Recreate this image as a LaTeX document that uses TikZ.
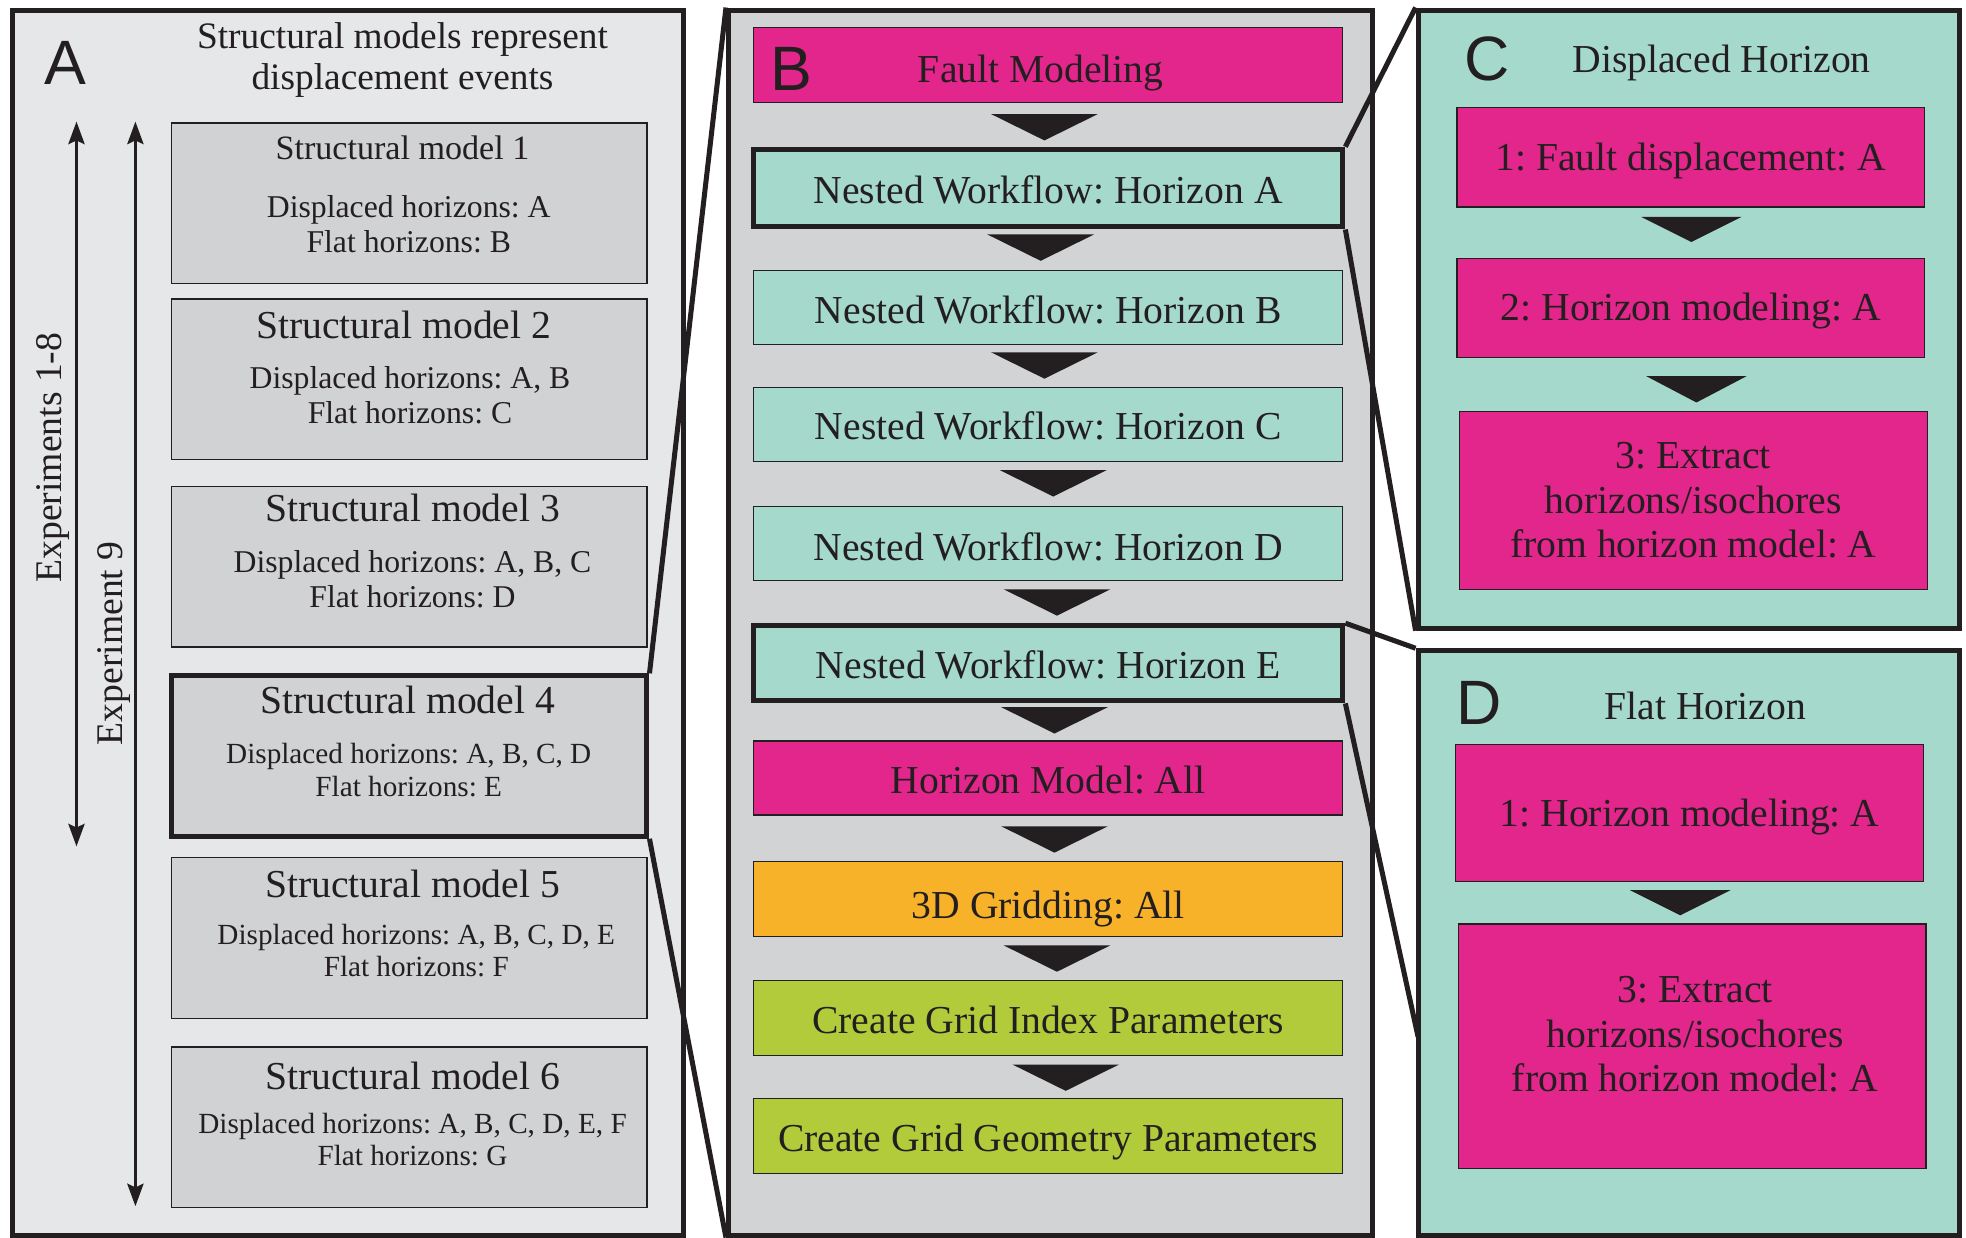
\documentclass[tikz,border=0pt]{standalone}
\usepackage{fontspec}
\setmainfont{Liberation Serif}
\newfontfamily\lettfont{Liberation Sans}
\usetikzlibrary{arrows.meta,calc}
\definecolor{ink}{HTML}{231F20}
\definecolor{grayA}{HTML}{E6E7E8}
\definecolor{grayB}{HTML}{D1D3D4}
\definecolor{graySM}{HTML}{D1D2D4}
\definecolor{magent}{HTML}{E2268B}
\definecolor{teal}{HTML}{A5D9CC}
\definecolor{orng}{HTML}{F8B22A}
\definecolor{lime}{HTML}{B1CB3A}
\newcommand\downtri[4]{\fill[ink] (#1-#3/2,#2) -- (#1+#3/2,#2) -- (#1,#2+#4) -- cycle;}
\frenchspacing
\begin{document}
\frenchspacing
\begin{tikzpicture}[x=0.5pt,y=-0.5pt,
  every node/.style={text=ink},
  panel/.style={draw=ink,line width=2pt,inner sep=0},
  smbox/.style={draw=ink,line width=0.5pt,fill=graySM,minimum width=189.5pt,minimum height=64pt,inner sep=0},
  thickb/.style={line width=2pt},
  bbox/.style={draw=ink,line width=0.5pt,minimum width=235pt,inner sep=0,text height=12.4pt,text depth=0pt,font=\fontsize{15.8}{19}\selectfont},
  cbox/.style={draw=ink,line width=0.5pt,fill=magent,minimum width=186.5pt,inner sep=0,align=center,font=\fontsize{15.8}{17.75}\selectfont},
  cone/.style={cbox,text height=10.4pt,text depth=0pt},
  smtitle/.style={inner sep=0,font=\fontsize{15.8}{19}\selectfont},
  smbody/.style={inner sep=0,align=center,font=\fontsize{12.65}{14}\selectfont},
  smbodys/.style={inner sep=0,align=center,font=\fontsize{11.65}{13}\selectfont},
  letter/.style={inner sep=0,font=\lettfont\fontsize{25}{25}\selectfont},
  zoomline/.style={draw=ink,line width=2pt},
  dblarrow/.style={draw=ink,line width=1pt,{Stealth[length=9pt,width=6.5pt,inset=1.5pt]}-{Stealth[length=9pt,width=6.5pt,inset=1.5pt]}},
  explabel/.style={inner sep=0,rotate=90,font=\fontsize{15}{18}\selectfont}
]
\useasboundingbox (0,0) rectangle (1568,987);

% ---------------- Panel A ----------------
\node[panel,fill=grayA,minimum width=267.5pt,minimum height=488.5pt] (pA) at (277.5,496.5) {};
\node[letter] (labA) at (52,50) {A};
\node[inner sep=0,align=center,font=\fontsize{14.9}{16.5}\selectfont] (titA) at (321,48) {Structural models represent\\displacement events};

\coordinate (e18t) at (61,97);
\coordinate (e18b) at (61,675);
\coordinate (e9t) at (108,97);
\coordinate (e9b) at (108,962);
\draw[dblarrow] (e18t) -- (e18b);
\draw[dblarrow] (e9t) -- (e9b);
\node[explabel] (l18) at (42,365) {Experiments 1-8};
\node[explabel] (l9) at (91,513) {Experiment 9};

\node[smbox] (sm1) at (326.5,162) {};
\node[smbox] (sm2) at (326.5,302.5) {};
\node[smbox] (sm3) at (326.5,452) {};
\node[smbox,thickb] (sm4) at (326.5,603) {};
\node[smbox] (sm5) at (326.5,748) {};
\node[smbox] (sm6) at (326.5,899) {};

\node[smtitle,font=\fontsize{13.6}{16}\selectfont] (sm1t) at (321,118) {Structural model 1};
\node[smbody] (sm1b) at (326,179) {Displaced horizons: A\\Flat horizons: B};
\node[smtitle] (sm2t) at (322,259) {Structural model 2};
\node[smbody] (sm2b) at (327,315) {Displaced horizons: A, B\\Flat horizons: C};
\node[smtitle] (sm3t) at (329,405) {Structural model 3};
\node[smbody] (sm3b) at (329,462) {Displaced horizons: A, B, C\\Flat horizons: D};
\node[smtitle] (sm4t) at (325,558) {Structural model 4};
\node[smbodys] (sm4b) at (326,614) {Displaced horizons: A, B, C, D\\Flat horizons: E};
\node[smtitle] (sm5t) at (329,705) {Structural model 5};
\node[smbodys] (sm5b) at (332,758) {Displaced horizons: A, B, C, D, E\\Flat horizons: F};
\node[smtitle] (sm6t) at (329,858) {Structural model 6};
\node[smbodys] (sm6b) at (329,909) {Displaced horizons: A, B, C, D, E, F\\Flat horizons: G};

% ---------------- Panel B ----------------
\node[panel,fill=grayB,minimum width=257pt,minimum height=488.5pt] (pB) at (838,496.5) {};
\node[bbox,fill=magent,minimum height=30pt] (fault) at (836,52) {\hspace*{-6pt}\raisebox{-0.5pt}{Fault Modeling}};
\node[letter] (labB) at (631,55) {B};
\node[bbox,fill=teal,thickb,minimum height=31pt] (na) at (836,150) {Nested Workflow: Horizon A};
\node[bbox,fill=teal,minimum height=29.5pt] (nb) at (836,245.5) {Nested Workflow: Horizon B};
\node[bbox,fill=teal,minimum height=29.5pt] (nc) at (836,338.5) {Nested Workflow: Horizon C};
\node[bbox,fill=teal,minimum height=29.5pt] (nd) at (836,433.5) {\raisebox{-0.7pt}{Nested Workflow: Horizon D}};
\node[bbox,fill=teal,thickb,minimum height=30pt] (ne) at (836,529) {Nested Workflow: Horizon E};
\node[bbox,fill=magent,minimum height=29.5pt] (hm) at (836,620.5) {Horizon Model: All};
\node[bbox,fill=orng,minimum height=30pt] (g3) at (836,717) {\raisebox{-1.5pt}{3D Gridding: All}};
\node[bbox,fill=lime,minimum height=30pt] (gi) at (836,812) {Create Grid Index Parameters};
\node[bbox,fill=lime,minimum height=30pt] (gg) at (836,906) {Create Grid Geometry Parameters};

\downtri{833}{91}{85}{21}
\downtri{830}{187}{85}{21}
\downtri{833}{281}{85}{21}
\downtri{840}{375}{85}{21}
\downtri{843}{470}{85}{21}
\downtri{841}{564}{85}{21}
\downtri{841}{659}{85}{21}
\downtri{843}{754}{85}{21}
\downtri{850}{849}{85}{21}

% ---------------- Panel C ----------------
\node[panel,fill=teal,minimum width=216pt,minimum height=246.5pt] (pC) at (1347,254.5) {};
\node[letter] (labC) at (1186,47) {C};
\node[inner sep=0,font=\fontsize{15.8}{19}\selectfont] (titC) at (1373,50) {Displaced Horizon};
\node[cone,minimum height=39.5pt] (c1) at (1348.5,125.5) {1: Fault displacement: A};
\node[cone,minimum height=39.5pt] (c2) at (1348.5,245.5) {2: Horizon modeling: A};
\node[cbox,minimum height=71pt] (c3) at (1350.5,399) {3: Extract\\horizons/isochores\\from horizon model: A};
\downtri{1349}{173}{80}{20}
\downtri{1353}{300}{80}{21}

% ---------------- Panel D ----------------
\node[panel,fill=teal,minimum width=216pt,minimum height=233pt] (pD) at (1347,752) {};
\node[letter] (labD) at (1180,561) {D};
\node[inner sep=0,font=\fontsize{15.8}{19}\selectfont] (titD) at (1360,563) {Flat Horizon};
\node[cone,minimum height=54.5pt] (d1) at (1347.5,648.5) {1: Horizon modeling: A};
\node[cbox,minimum height=97.5pt] (d3) at (1349.5,834.5) {};
\node[inner sep=0,align=center,font=\fontsize{15.8}{17.75}\selectfont] (d3t) at (1352,825) {3: Extract\\horizons/isochores\\from horizon model: A};
\downtri{1340}{710}{80}{20}

% ---------------- zoom lines ----------------
\coordinate (dhit) at (1131,827);
\draw[zoomline] (sm4.north east) -- (pB.north west);
\draw[zoomline] (sm4.south east) -- (pB.south west);
\draw[zoomline] (na.north east) -- (pC.north west);
\draw[zoomline] (na.south east) -- (pC.south west);
\draw[zoomline] (ne.north east) -- (pD.north west);
\draw[zoomline] (ne.south east) -- (dhit);
\end{tikzpicture}
\end{document}
